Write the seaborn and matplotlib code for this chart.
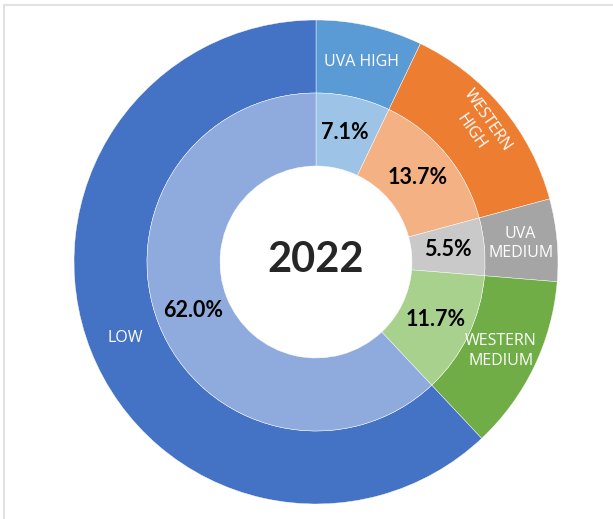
import numpy as np
import matplotlib
matplotlib.use('Agg')
import matplotlib.pyplot as plt
from matplotlib.patches import Rectangle
import seaborn as sns

# 2022 shares, clockwise from the top
categories = ['UVA HIGH', 'WESTERN HIGH', 'UVA MEDIUM', 'WESTERN MEDIUM', 'LOW']
outer_labels = ['UVA HIGH', 'WESTERN\nHIGH', 'UVA\nMEDIUM', 'WESTERN\nMEDIUM', 'LOW']
shares = [7.1, 13.7, 5.5, 11.7, 62.0]
center_label = '2022'

outer_colors = ['#5B9BD5', '#ED7D31', '#A5A5A5', '#70AD47', '#4472C4']
inner_colors = ['#9DC3E6', '#F4B183', '#C9C9C9', '#A9D18E', '#8FAADC']

sns.set_theme(style='white')
plt.rcParams['font.family'] = ['Open Sans', 'DejaVu Sans']

fig = plt.figure(figsize=(6.13, 5.19), dpi=100)
fig.patches.append(Rectangle((4 / 613, -0.1), 1.2, (519 - 5) / 519 + 0.1,
                             transform=fig.transFigure, fill=False,
                             edgecolor='#E2E2E2', linewidth=1.5))

# square axes centred on the donut
cx, cy, R = 316, 519 - 262, 242
ax = fig.add_axes([(cx - R) / 613, (cy - R) / 519, 2 * R / 613, 2 * R / 519])
ax.axis('off')

r_out = 1.0
r_mid = 169 / 242
r_in = 96 / 242

wedge_kw = dict(edgecolor='white', linewidth=0.3)
ax.pie(shares, radius=r_out, colors=outer_colors, startangle=90,
       counterclock=False, wedgeprops=dict(width=r_out - r_mid, **wedge_kw))
ax.pie(shares, radius=r_mid, colors=inner_colors, startangle=90,
       counterclock=False, wedgeprops=dict(width=r_mid - r_in, **wedge_kw))
ax.set_xlim(-1, 1)
ax.set_ylim(-1, 1)

# label positions from slice mid-angles
ends = 90 - np.cumsum(shares) * 3.6
starts = ends + np.array(shares) * 3.6
mids = np.deg2rad((starts + ends) / 2)

r_lab_out = (r_out + r_mid) / 2
r_lab_in = (r_mid + r_in) / 2
for i, (lab, s, a) in enumerate(zip(outer_labels, shares, mids)):
    rot = 0
    r_lab = r_lab_out
    if categories[i] == 'WESTERN HIGH':
        rot = np.rad2deg(a) - 95
        r_lab = r_lab_out + 0.03
    ax.text(r_lab * np.cos(a), r_lab * np.sin(a), lab, color='white',
            fontsize=11.5, ha='center', va='center', rotation=rot,
            rotation_mode='anchor', linespacing=1.3)
    ax.text(r_lab_in * np.cos(a), r_lab_in * np.sin(a), f'{s:.1f}%',
            color='black', fontsize=15.5, fontweight='bold', ha='center',
            va='center', family=['Lato', 'DejaVu Sans'])

ax.text(0, 0.01, center_label, fontsize=30, fontweight='bold', ha='center',
        va='center', family=['Lato', 'DejaVu Sans'])

fig.savefig('out.png', dpi=100)
